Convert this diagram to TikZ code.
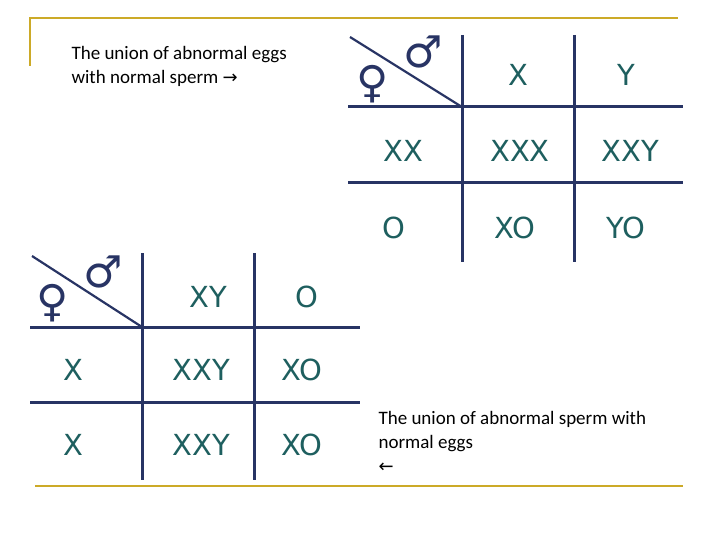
\documentclass[tikz,border=0pt]{standalone}
\usepackage{fontspec}
\setmainfont{Carlito}
\newfontfamily\dv{DejaVu Sans}
\definecolor{gold}{RGB}{204,170,40}
\definecolor{navy}{RGB}{40,52,100}
\definecolor{teal}{RGB}{30,95,95}
\begin{document}
\begin{tikzpicture}[x=1pt,y=-1pt,
  grid/.style={navy,line width=3pt},
  cell/.style={teal,font=\dv\fontsize{29}{31}\selectfont},
  sym/.style={navy,font=\dv\fontsize{44}{44}\selectfont},
  lab/.style={anchor=west,font=\fontsize{19}{24}\selectfont,align=left}]
\useasboundingbox (0,0) rectangle (720,540);
\draw[gold,line width=2.5pt] (30,66) -- (30,18) -- (678,18);
\draw[gold,line width=2.5pt] (35,486) -- (683,486);
% top table
\draw[grid] (462,35) -- (462,262) (574,35) -- (574,262);
\draw[grid] (348,107) -- (683,107) (348,183) -- (683,183);
\draw[navy,line width=2.2pt] (350,37) -- (462,107);
\node[sym] (f1) at (373,84) {♀};
\node[sym] (m1) at (423,52) {♂};
\node[cell] (a1) at (518,75) {X};
\node[cell] (a2) at (626,75) {Y};
\node[cell] (a3) at (403,151) {XX};
\node[cell] (a4) at (520,151) {XXX};
\node[cell] (a5) at (630,151) {XXY};
\node[cell] (a6) at (394,228) {O};
\node[cell] (a7) at (515,228) {XO};
\node[cell] (a8) at (626,228) {YO};
% bottom table
\draw[grid] (142,253) -- (142,480) (254,253) -- (254,480);
\draw[grid] (30,327) -- (360,327) (30,402) -- (360,402);
\draw[navy,line width=2.2pt] (32,256) -- (142,327);
\node[sym] (f2) at (53,303) {♀};
\node[sym] (m2) at (103,272) {♂};
\node[cell] (b1) at (208,297) {XY};
\node[cell] (b2) at (307,297) {O};
\node[cell] (b3) at (73,370) {X};
\node[cell] (b4) at (201,370) {XXY};
\node[cell] (b5) at (302,370) {XO};
\node[cell] (b6) at (73,445) {X};
\node[cell] (b7) at (201,445) {XXY};
\node[cell] (b8) at (302,445) {XO};
% labels
\node[lab] (t1) at (68,66) {The union of abnormal eggs\\with normal sperm {\dv\fontsize{18}{18}\selectfont →}};
\node[lab] (t2) at (375,442) {The union of abnormal sperm with\\normal eggs\\{\dv\fontsize{18}{18}\selectfont ←}};
\end{tikzpicture}
\end{document}
